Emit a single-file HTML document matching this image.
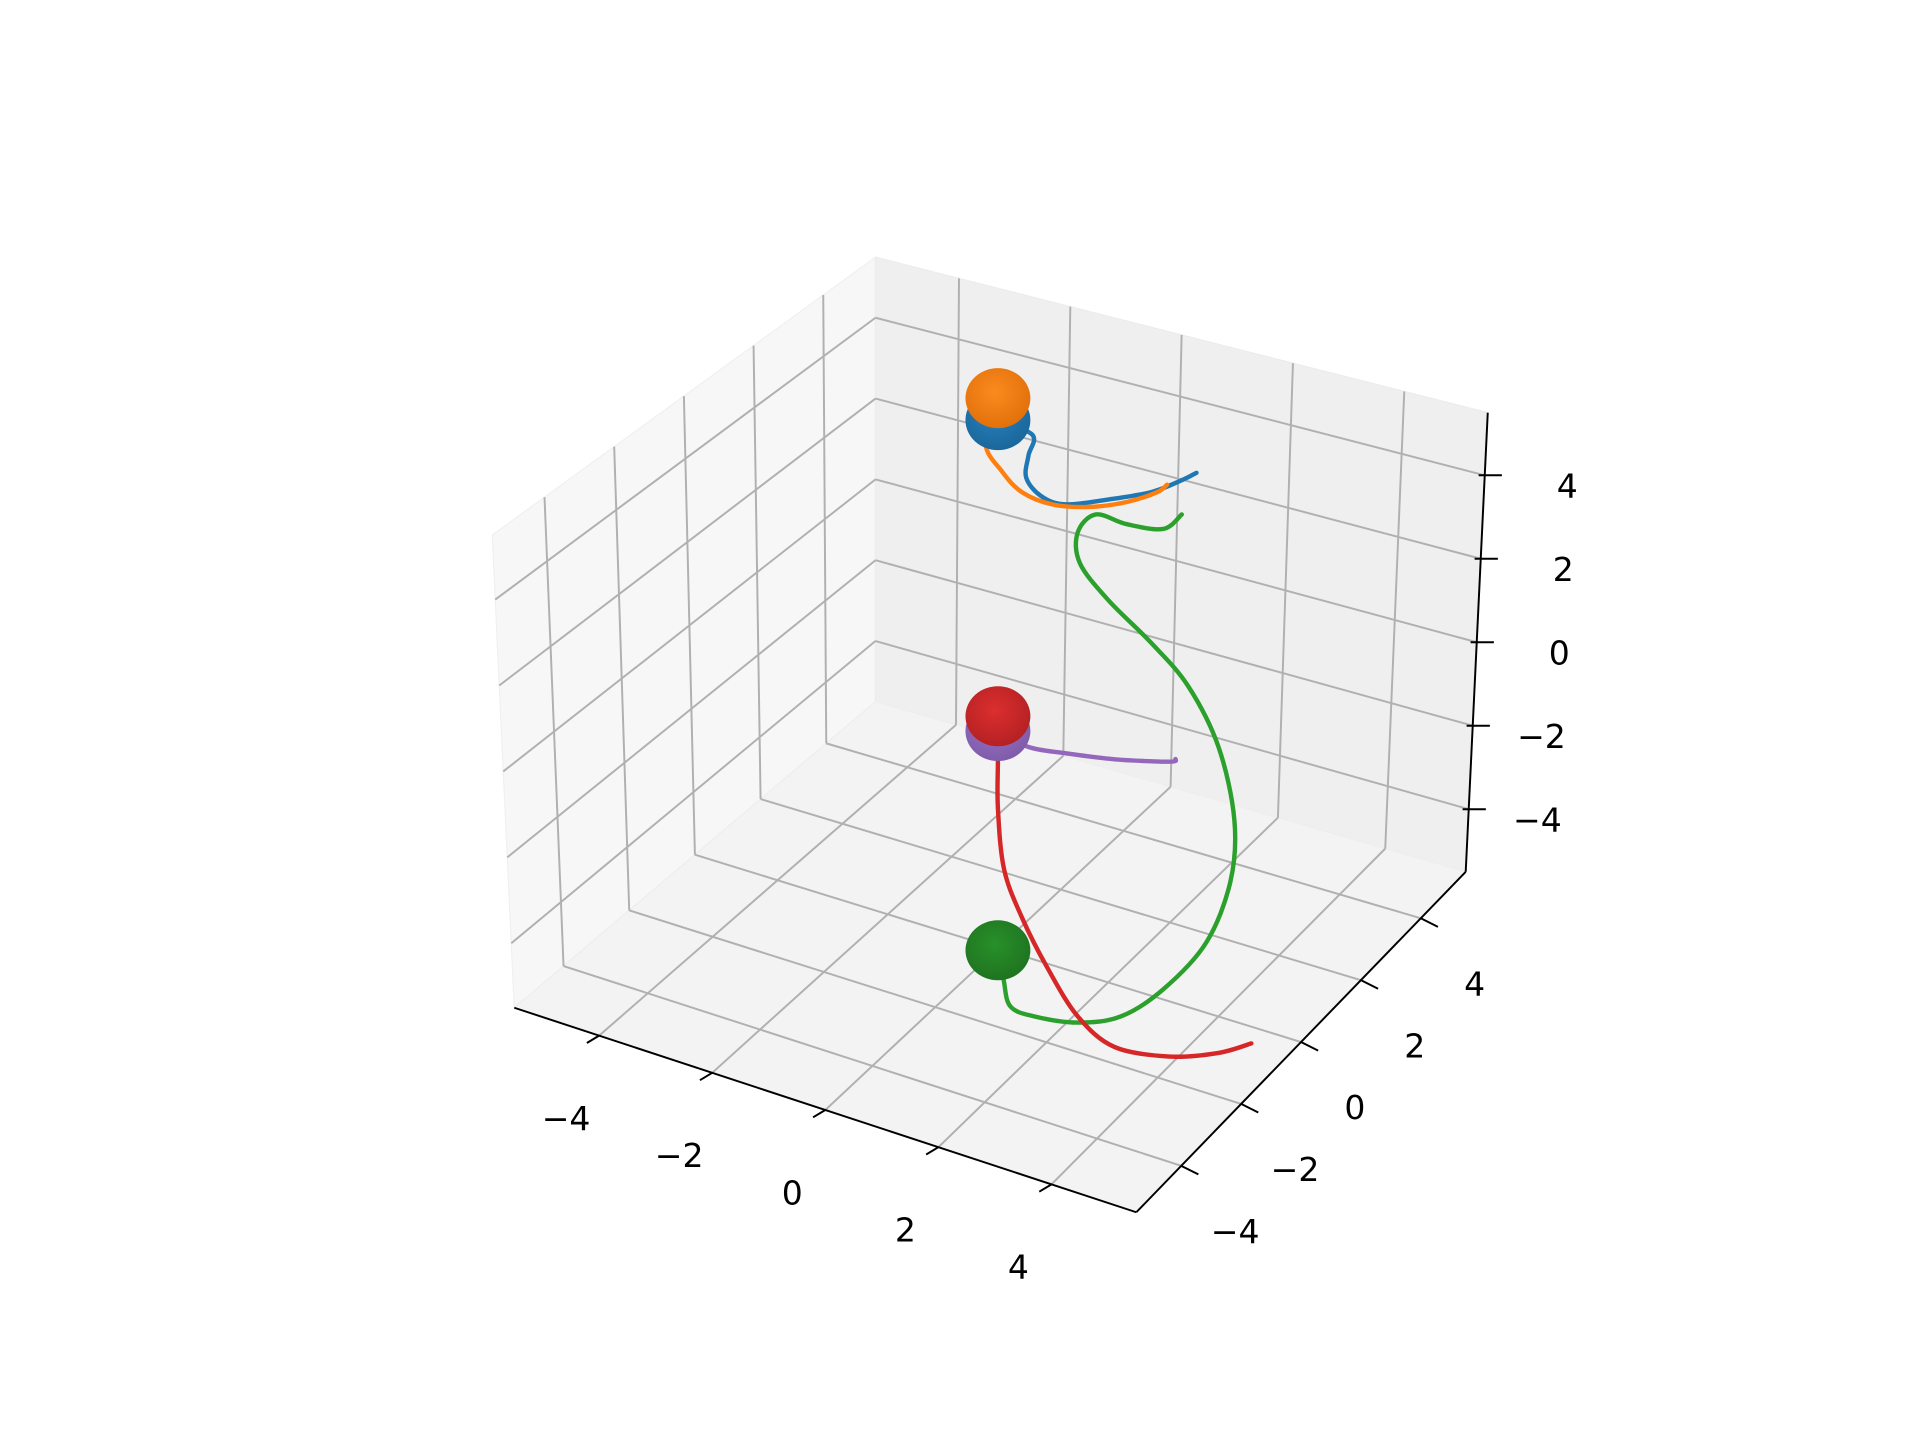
<!DOCTYPE html>
<html><head><meta charset="utf-8"><style>
html,body{margin:0;padding:0;background:#fff;}
svg{display:block;font-family:"DejaVu Sans","Liberation Sans",sans-serif;}
</style></head><body>
<svg id="chart" width="1920" height="1440" viewBox="0 0 1568 1176" xmlns="http://www.w3.org/2000/svg">
<defs>
<radialGradient id="g-orange" cx="45%" cy="40%" r="65%"><stop offset="0" stop-color="#fb8a1e"/><stop offset="1" stop-color="#e06f0a"/></radialGradient>
<radialGradient id="g-blue" cx="45%" cy="40%" r="65%"><stop offset="0" stop-color="#2580bd"/><stop offset="1" stop-color="#1a6598"/></radialGradient>
<radialGradient id="g-red" cx="45%" cy="40%" r="65%"><stop offset="0" stop-color="#dc2e2f"/><stop offset="1" stop-color="#b22022"/></radialGradient>
<radialGradient id="g-purple" cx="45%" cy="40%" r="65%"><stop offset="0" stop-color="#9a72c6"/><stop offset="1" stop-color="#7d5aa8"/></radialGradient>
<radialGradient id="g-green" cx="45%" cy="40%" r="65%"><stop offset="0" stop-color="#28902a"/><stop offset="1" stop-color="#1e721f"/></radialGradient>
</defs>
<g id="panes"></g>
<g id="grid"></g>
<g id="axes"></g>
<g id="series"></g>
<g id="spheres"></g>
</svg>
<script>
// ---- data (x, y, z in data units) ----
const tickValues = [-4, -2, 0, 2, 4];
const tickLabels = ["\u22124", "\u22122", "0", "2", "4"];
const seriesNames = ["blue", "orange", "green", "red", "purple"];
const seriesColors = ["#1f77b4", "#ff7f0e", "#2ca02c", "#d62728", "#9467bd"];
const blueX = [0.14,0.75,0.68,0.64,0.90,1.33,2.09,2.85,3.39,3.65];
const blueY = [0,0,0,0,0,0,0,0,0,0];
const blueZ = [6.87,6.79,6.27,5.73,5.41,5.40,5.85,6.36,6.88,7.17];
const orangeX = [0.14,-0.08,0.21,0.57,1.11,1.76,2.41,2.95,3.13];
const orangeY = [0,0,0,0,0,0,0,0,0];
const orangeZ = [7.39,6.23,5.69,5.35,5.30,5.53,5.93,6.40,6.66];
const greenX = [0.14,0.24,0.36,0.79,1.55,2.31,3.06,3.82,4.25,4.32,4.04,3.50,2.85,2.09,1.59,1.55,1.87,2.41,3.06,3.39];
const greenY = [0,0,0,0,0,0,0,0,0,0,0,0,0,0,0,0,0,0,0,0];
const greenZ = [-5.68,-6.33,-6.91,-6.96,-6.77,-6.29,-5.32,-3.88,-2.24,-0.76,0.85,2.06,2.79,3.47,4.12,4.83,5.40,5.41,5.58,6.07];
const redX = [0.14,0.14,0.14,0.25,0.57,1.01,1.55,2.20,3.17,4.04,4.62];
const redY = [0,0,0,0,0,0,0,0,0,0,0];
const redZ = [-0.14,-1.16,-2.32,-3.72,-4.73,-5.70,-6.62,-7.06,-6.86,-6.39,-5.91];
const purpleX = [0.14,0.68,1.33,2.20,3.17,3.28];
const purpleY = [0,0,0,0,0,0];
const purpleZ = [-0.49,-0.63,-0.49,-0.25,0.12,0.23];
const sphereSeries = ["blue","orange","purple","red","green"];
const sphereColorIds = ["g-blue","g-orange","g-purple","g-red","g-green"];

const NS = "http://www.w3.org/2000/svg";
function mk(tag, attrs, parent){const e=document.createElementNS(NS,tag);for(const k in attrs)e.setAttribute(k,attrs[k]);parent.appendChild(e);return e;}

function proj(x,y,z){return [808.5+46.2*x+24.5*y, 578+15.2*x-25.3*y-34.5*z];}

const C = {
  lfb:[420,823], lbb:[715,573], lbt:[715,210], lft:[402,437],
  rbb:[1197,712], rbt:[1215,337], ffb:[928,990]
};
function lerp(a,b,t){return [a[0]+(b[0]-a[0])*t, a[1]+(b[1]-a[1])*t];}
function tt(v){return (v+5.5)/11;}
const panes=document.getElementById('panes'), grid=document.getElementById('grid'), axes=document.getElementById('axes');
function poly(pts){return pts.map(p=>p.join(',')).join(' ');}
let p;
p=mk('polygon',{points:poly([C.lfb,C.lbb,C.lbt,C.lft]),fill:'#f7f7f7',stroke:'#f0f0f0'},panes);


p=mk('polygon',{points:poly([C.lbb,C.rbb,C.rbt,C.lbt]),fill:'#efefef',stroke:'#ececec'},panes);


p=mk('polygon',{points:poly([C.lfb,C.lbb,C.rbb,C.ffb]),fill:'#f3f3f3',stroke:'#eeeeee'},panes);



function gl(a,b,name){const l=mk('line',{x1:a[0],y1:a[1],x2:b[0],y2:b[1],stroke:'#b0b0b0','stroke-width':1.6},grid);

}
tickValues.forEach(v=>{
  const t=tt(v);
  const fx=lerp(C.lfb,C.ffb,t), bx=lerp(C.lbb,C.rbb,t), tx=lerp(C.lbt,C.rbt,t);
  gl(fx,bx,'x-grid-floor'); gl(bx,tx,'x-grid-back');
  const ly=lerp(C.lfb,C.lbb,t), ry=lerp(C.ffb,C.rbb,t), lyt=lerp(C.lft,C.lbt,t);
  gl(ly,ry,'y-grid-floor'); gl(ly,lyt,'y-grid-left');
  const lz=lerp(C.lfb,C.lft,t), bz=lerp(C.lbb,C.lbt,t), rz=lerp(C.rbb,C.rbt,t);
  gl(lz,bz,'z-grid-left'); gl(bz,rz,'z-grid-back');
});

function al(a,b,name){const l=mk('line',{x1:a[0],y1:a[1],x2:b[0],y2:b[1],stroke:'#000','stroke-width':1.6},axes);

}
al(C.lfb,C.ffb,'x-axis-line'); al(C.ffb,C.rbb,'y-axis-line'); al(C.rbb,C.rbt,'z-axis-line');
function lab(x,y,s,name,anchor){const e=mk('text',{x:x,y:y,'font-size':27,'text-anchor':anchor||'middle',fill:'#000'},axes);e.textContent=s;

}
tickValues.forEach((v,i)=>{
  const t=tt(v);
  const px=lerp(C.lfb,C.ffb,t);
  al([px[0],px[1]],[px[0]-10,px[1]+6],'x-tick');
  lab(px[0]-27,px[1]+77,tickLabels[i],'x-tick-label');
  const py=lerp(C.ffb,C.rbb,t);
  al(py,[py[0]+14,py[1]+7],'y-tick');
  lab(py[0]+44,py[1]+63,tickLabels[i],'y-tick-label');
  const pz=lerp(C.rbb,C.rbt,t);
  al([pz[0]-5,pz[1]],[pz[0]+14,pz[1]],'z-tick');
  lab(pz[0]+76,pz[1]+18,tickLabels[i],'z-tick-label','end');
});

const data={blue:[blueX,blueY,blueZ],orange:[orangeX,orangeY,orangeZ],green:[greenX,greenY,greenZ],red:[redX,redY,redZ],purple:[purpleX,purpleY,purpleZ]};
const series=document.getElementById('series');
function smoothPath(pts){
  let d='M'+pts[0][0]+','+pts[0][1];
  for(let i=0;i<pts.length-1;i++){
    const p0=pts[Math.max(0,i-1)],p1=pts[i],p2=pts[i+1],p3=pts[Math.min(pts.length-1,i+2)];
    const c1=[p1[0]+(p2[0]-p0[0])/6,p1[1]+(p2[1]-p0[1])/6];
    const c2=[p2[0]-(p3[0]-p1[0])/6,p2[1]-(p3[1]-p1[1])/6];
    d+=' C'+c1.join(',')+' '+c2.join(',')+' '+p2.join(',');
  }
  return d;
}
seriesNames.forEach((n,si)=>{
  const [X,Y,Z]=data[n];
  const pts=X.map((x,i)=>proj(x,Y[i],Z[i]));
  const path=mk('path',{d:smoothPath(pts),fill:'none',stroke:seriesColors[si],'stroke-width':3.6,'stroke-linejoin':'round','stroke-linecap':'round'},series);
  
  
});
const spheres=document.getElementById('spheres');
sphereSeries.forEach((n,i)=>{
  const [X,Y,Z]=data[n];
  const c=proj(X[0],Y[0],Z[0]);
  const e=mk('ellipse',{cx:c[0],cy:c[1],rx:26.5,ry:24.5,fill:'url(#'+sphereColorIds[i]+')'},spheres);
  
  
});
</script>
</body></html>
